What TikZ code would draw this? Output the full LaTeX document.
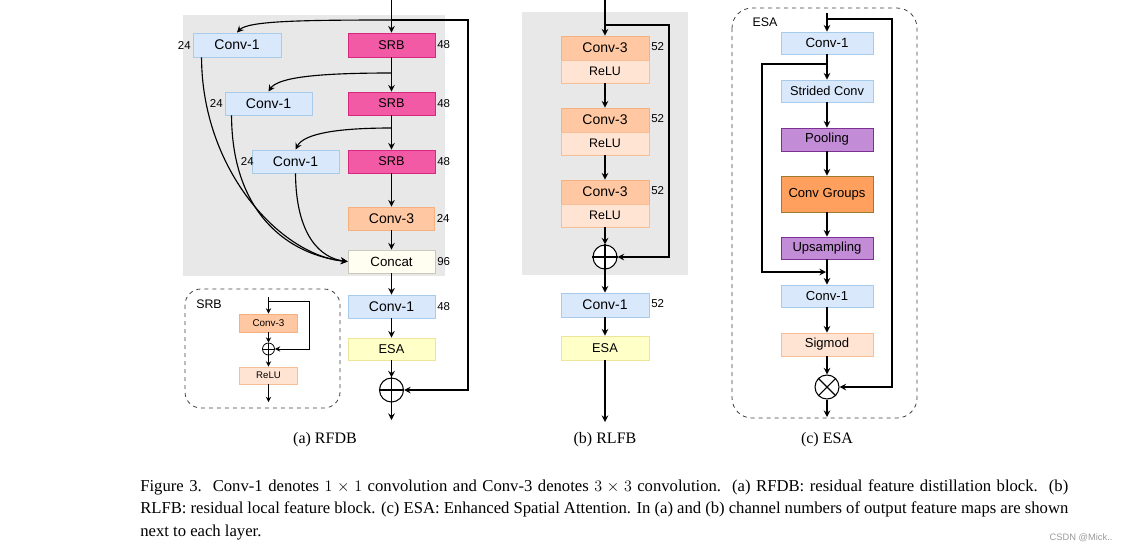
\documentclass[tikz,border=0pt]{standalone}
\usepackage{fontspec}
\setmainfont{Liberation Serif}
\setsansfont{Liberation Sans}
\usetikzlibrary{arrows.meta,calc}
\definecolor{bgray}{HTML}{E8E8E8}
\definecolor{cOneFill}{HTML}{DAE8FC}
\definecolor{cOneDraw}{HTML}{A9CBEA}
\definecolor{srbFill}{HTML}{F25AA6}
\definecolor{srbDraw}{HTML}{D6287F}
\definecolor{cThreeFill}{HTML}{FFC8A2}
\definecolor{cThreeDraw}{HTML}{F5B07F}
\definecolor{reluFill}{HTML}{FFE4D4}
\definecolor{reluDraw}{HTML}{F7BE96}
\definecolor{catFill}{HTML}{FFFEF0}
\definecolor{catDraw}{HTML}{C9C9BB}
\definecolor{esaFill}{HTML}{FFFFC8}
\definecolor{esaDraw}{HTML}{EDE59A}
\definecolor{purFill}{HTML}{C38CD6}
\definecolor{purDraw}{HTML}{7E2F93}
\definecolor{grpFill}{HTML}{FFA05E}
\definecolor{grpDraw}{HTML}{9C7A2E}
\definecolor{wmark}{HTML}{9A9A9A}
\begin{document}
\begin{tikzpicture}[x=0.75pt,y=-0.75pt,
  wh/.style 2 args={minimum width=#1*0.75pt,minimum height=#2*0.75pt},
  fs/.style={font=\sffamily\fontsize{#1}{#1}\selectfont},
  blk/.style={draw, line width=0.7pt, inner sep=0pt, text=black, fs=10.5},
  cone/.style={blk, fill=cOneFill, draw=cOneDraw},
  srbbox/.style={blk, fill=srbFill, draw=srbDraw, fs=9.5},
  cthree/.style={blk, fill=cThreeFill, draw=cThreeDraw},
  relubox/.style={blk, fill=reluFill, draw=reluDraw, fs=9.3},
  catbox/.style={blk, fill=catFill, draw=catDraw, fs=10},
  esabox/.style={blk, fill=esaFill, draw=esaDraw, fs=9.6},
  purbox/.style={blk, fill=purFill, draw=purDraw, fs=9.8},
  grpbox/.style={blk, fill=grpFill, draw=grpDraw, fs=9.8},
  num/.style={fs=8.6, inner sep=1.2pt},
  lab/.style={fs=9.3, inner sep=0pt},
  opcirc/.style={circle, draw, line width=0.8pt, fill=white, minimum size=24*0.75pt, inner sep=0pt},
  smallcirc/.style={circle, draw, line width=0.6pt, fill=white, minimum size=12*0.75pt, inner sep=0pt},
  conn/.style={line width=0.85pt, -{Stealth[length=5pt,width=5pt,inset=1.8pt]}},
  sconn/.style={line width=0.65pt, -{Stealth[length=4pt,width=4pt,inset=1.4pt]}},
  frame/.style={dashed, line width=0.6pt, draw=black!75},
  subcap/.style={font=\fontsize{12}{14}\selectfont, inner sep=0pt}
]
\useasboundingbox (0,0) rectangle (1128,551);

% ================= (a) RFDB =================
\fill[bgray] (183,15) rectangle (445,276);
\node[cone, wh={88}{24}] (c1a) at (237,45) {Conv-1};
\node[cone, wh={87}{23}] (c1b) at (268.5,103.5) {Conv-1};
\node[cone, wh={87}{23}] (c1c) at (295.5,161.5) {Conv-1};
\node[srbbox, wh={87}{24}] (s1) at (391.5,45) {SRB};
\node[srbbox, wh={87}{23}] (s2) at (391.5,103.5) {SRB};
\node[srbbox, wh={87}{23}] (s3) at (391.5,161.5) {SRB};
\node[cthree, wh={86}{23}] (k3a) at (391.5,218.5) {Conv-3};
\node[catbox, wh={87}{23}] (cat) at (391.5,261.5) {Concat};
\node[cone, wh={87}{23}] (coa) at (391.5,306.5) {Conv-1};
\node[esabox, wh={87}{22}] (ea) at (391.5,349) {ESA};
\node[opcirc] (pa) at (391.5,390) {};
\draw[line width=0.8pt] (pa.north) -- (pa.south) (pa.west) -- (pa.east);

\node[num, anchor=east] at (c1a.west) {24};
\node[num, anchor=east] at (c1b.west) {24};
\node[num, anchor=east] at ([xshift=3pt]c1c.west) {24};
\foreach \n in {s1,s2,s3,coa} \node[num, anchor=west] at (\n.east) {48};
\node[num, anchor=west] at (k3a.east) {24};
\node[num, anchor=west] at (cat.east) {96};

\coordinate (ina) at (391.5,0);
\coordinate (ta) at (391.5,20);
\coordinate (tra) at (468,20);
\coordinate (b1) at (391.5,73);
\coordinate (b2) at (391.5,128);
\coordinate (outa) at (391.5,420);
\draw[conn] (ina) -- (s1.north);
\draw[conn] (ta) .. controls (300,20) and (248,21) .. (c1a.north);
\draw[conn] (ta) -- (tra) |- (pa.east);
\draw[conn] (s1.south) -- (s2.north);
\draw[conn] (b1) .. controls (320,73) and (278,77) .. (c1b.north);
\draw[conn] (s2.south) -- (s3.north);
\draw[conn] (b2) .. controls (340,128) and (304,133) .. (c1c.north);
\draw[conn] (s3.south) -- (k3a.north);
\draw[conn] (k3a.south) -- (cat.north);
\draw[conn] (cat.south) -- (coa.north);
\draw[conn] (coa.south) -- (ea.north);
\draw[conn] (ea.south) -- (pa.north);
\draw[conn] (pa.south) -- (outa);
\draw[conn] ([xshift=6.75pt]c1a.south west) .. controls (202,170) and (280,255) .. (cat.west);
\draw[conn] ([xshift=5.25pt]c1b.south west) .. controls (232,215) and (290,255) .. (cat.west);
\draw[conn] (c1c.south) .. controls (296,235) and (320,258) .. (cat.west);

% SRB inset
\draw[frame, rounded corners=12pt] (185,289) rectangle (340,408);
\node[lab] at (209,304) {SRB};
\node[cthree, wh={58}{18}, fs=7.4] (sc) at (268.5,323) {Conv-3};
\node[smallcirc] (sp) at (268.5,349) {};
\draw[line width=0.6pt] (sp.north) -- (sp.south) (sp.west) -- (sp.east);
\node[relubox, wh={58}{17}, fs=7.2] (sr) at (268.5,375.5) {ReLU};
\coordinate (si) at (268.5,297);
\coordinate (sk) at (268.5,301);
\coordinate (skr) at (309,301);
\coordinate (so) at (268.5,402);
\draw[sconn] (si) -- (sc.north);
\draw[sconn] (sk) -- (skr) |- (sp.east);
\draw[sconn] (sc.south) -- (sp.north);
\draw[sconn] (sp.south) -- (sr.north);
\draw[sconn] (sr.south) -- (so);

\node[subcap] at (325,440) {(a) RFDB};

% ================= (b) RLFB =================
\fill[bgray] (522,12) rectangle (688,275);
\node[cthree, wh={88}{24}] (k1) at (605,48) {Conv-3};
\node[relubox, wh={88}{23}] (r1) at (605,71.5) {ReLU};
\node[cthree, wh={88}{24}] (k2) at (605,120) {Conv-3};
\node[relubox, wh={88}{23}] (r2) at (605,143.5) {ReLU};
\node[cthree, wh={88}{24}] (k3) at (605,192) {Conv-3};
\node[relubox, wh={88}{23}] (r3) at (605,215.5) {ReLU};
\node[opcirc] (pb) at (605,257) {};
\draw[line width=0.8pt] (pb.north) -- (pb.south) (pb.west) -- (pb.east);
\node[cone, wh={88}{24}] (cb) at (605,305) {Conv-1};
\node[esabox, wh={88}{24}] (eb) at (605,348) {ESA};
\foreach \n in {k1,k2,k3,cb} \node[num, anchor=west] at ([yshift=1pt]\n.east) {52};
\coordinate (bi) at (605,0);
\coordinate (bk) at (605,25);
\coordinate (bkr) at (669,25);
\coordinate (bo) at (605,422);
\draw[conn] (bi) -- (k1.north);
\draw[conn] (bk) -- (bkr) |- (pb.east);
\draw[conn] (r1.south) -- (k2.north);
\draw[conn] (r2.south) -- (k3.north);
\draw[conn] (r3.south) -- (pb.north);
\draw[conn] (pb.south) -- (cb.north);
\draw[conn] (cb.south) -- (eb.north);
\draw[conn] (eb.south) -- (bo);
\node[subcap] at (605,440) {(b) RLFB};

% ================= (c) ESA =================
\draw[frame, rounded corners=15pt] (732,8) rectangle (917,418);
\node[lab] at (765,22) {ESA};
\node[cone, wh={92}{22}, fs=10] (e1) at (827,43) {Conv-1};
\node[cone, wh={92}{22}, fs=9.6] (es) at (827,91) {Strided Conv};
\node[purbox, wh={92}{23}] (ep) at (827,139.5) {Pooling};
\node[grpbox, wh={92}{36}] (eg) at (827,194) {Conv Groups};
\node[purbox, wh={92}{22}] (eu) at (827,248) {Upsampling};
\node[cone, wh={92}{22}, fs=9.8] (e2) at (827,296) {Conv-1};
\node[relubox, wh={92}{23}, fs=9.8] (esg) at (827,344.5) {Sigmod};
\node[opcirc] (et) at (827,387) {};
\draw[line width=0.8pt] (et.north west) -- (et.south east) (et.north east) -- (et.south west);
\coordinate (ei) at (827,13);
\coordinate (ek) at (827,19);
\coordinate (ekr) at (892,19);
\coordinate (ib) at (827,64);
\coordinate (il) at (762,64);
\coordinate (ie) at (826,272);
\coordinate (eo) at (827,417);
\draw[conn] (ei) -- (e1.north);
\draw[conn] (ek) -- (ekr) |- (et.east);
\draw[conn] (e1.south) -- (es.north);
\draw[conn] (ib) -- (il) |- (ie);
\draw[conn] (es.south) -- (ep.north);
\draw[conn] (ep.south) -- (eg.north);
\draw[conn] (eg.south) -- (eu.north);
\draw[conn] (eu.south) -- (e2.north);
\draw[conn] (e2.south) -- (esg.north);
\draw[conn] (esg.south) -- (et.north);
\draw[conn] (et.south) -- (eo);
\node[subcap] at (827,440) {(c) ESA};

% ================= caption =================
\node[anchor=north west, inner sep=0pt, text width=696pt, align=justify,
      font=\fontsize{12.5}{16.9}\selectfont] (caption) at (140,479)
 {Figure 3.\ \ Conv-1 denotes $1\times1$ convolution and Conv-3 denotes $3\times3$ convolution.\ \ (a) RFDB: residual feature distillation block.\ \ (b)\linebreak RLFB: residual local feature block. (c) ESA: Enhanced Spatial Attention. In (a) and (b) channel numbers of output feature maps are shown\linebreak next to each layer.};
\node[fs=7, text=wmark, inner sep=0pt] (wm) at (1081,538) {CSDN @Mick..};
\end{tikzpicture}
\end{document}
